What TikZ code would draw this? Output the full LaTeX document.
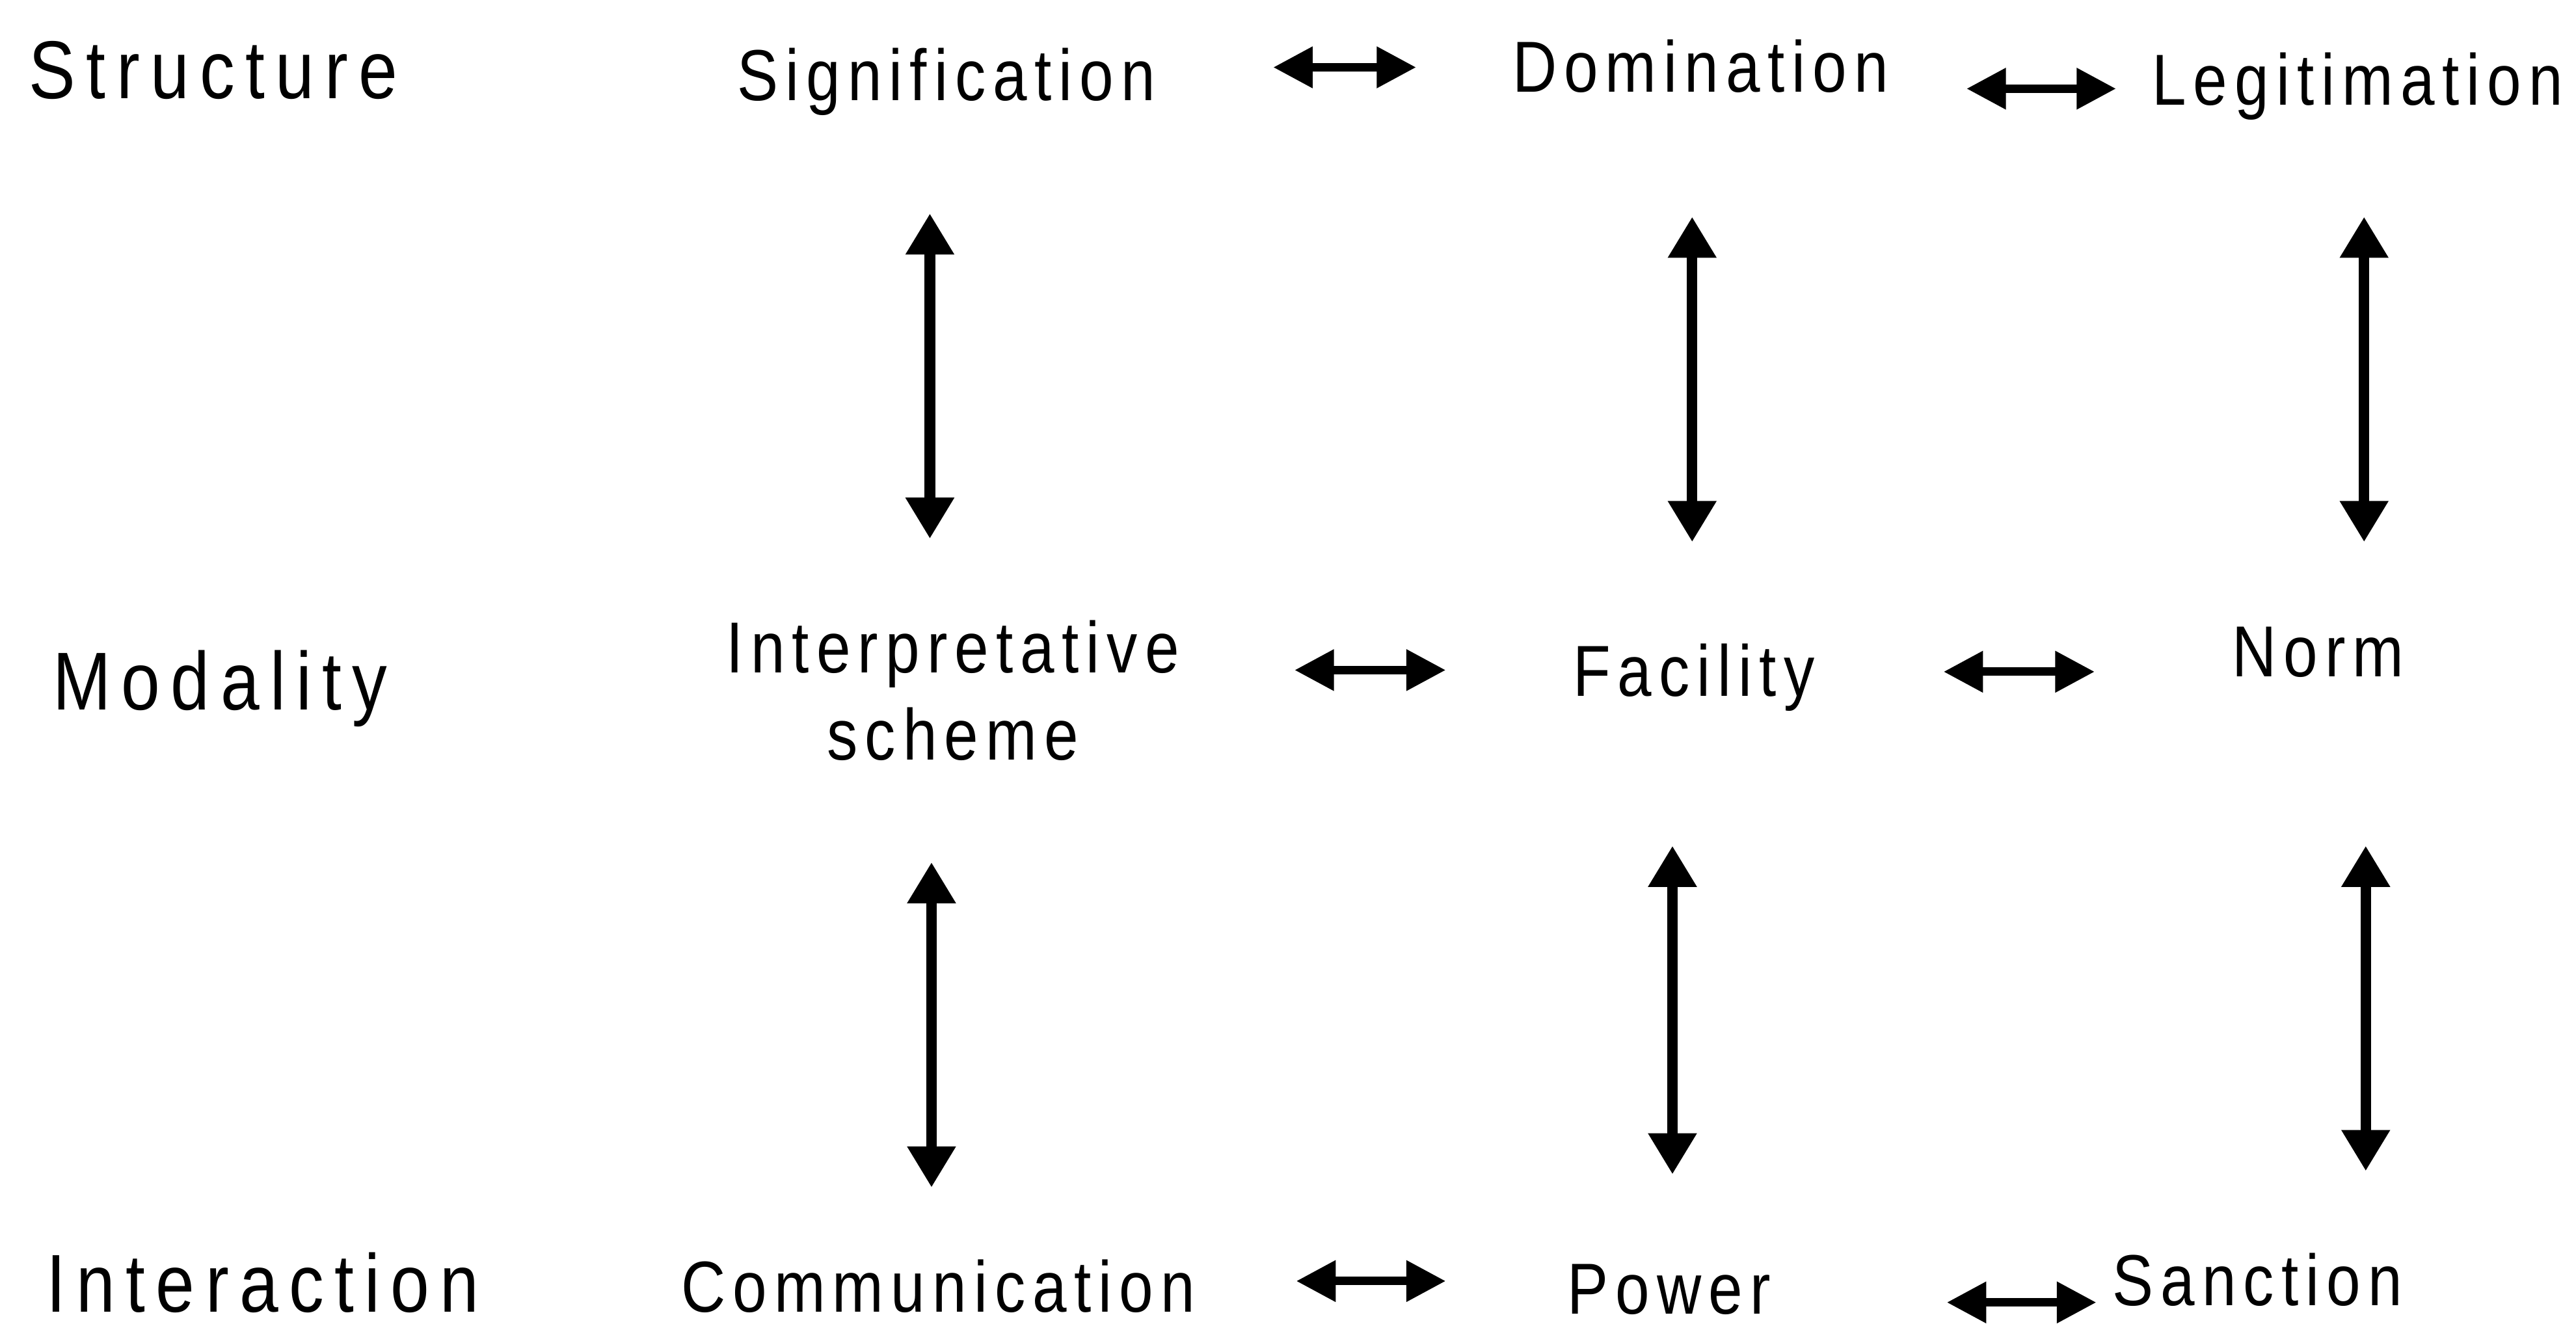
\documentclass[tikz,border=0pt]{standalone}
\usepackage{fontspec}
\setmainfont{Liberation Sans}[FakeStretch=0.85, LetterSpace=10]
\newfontfamily\rowfont{Liberation Sans}[FakeStretch=0.85, LetterSpace=13]
\usetikzlibrary{arrows.meta}

\begin{document}
\begin{tikzpicture}[x=0.5pt, y=-0.5pt,
  cell/.style={inner sep=0pt, anchor=base, font=\fontsize{22}{26.5}\selectfont},
  rowlabel/.style={inner sep=0pt, anchor=base, font=\rowfont\fontsize{25}{30}\selectfont},
  vlink/.style={line width=3.2pt,
    {Triangle[width=14pt,length=12.5pt]}-{Triangle[width=14pt,length=12.5pt]}},
  hlink/.style={line width=2.6pt,
    {Triangle[width=12pt,length=12pt]}-{Triangle[width=12pt,length=12pt]}}]

  % page frame
  \useasboundingbox (0,0) rectangle (1568,807);

  % row labels
  \node[rowlabel] (structure)   at (130,60)  {Structure};
  \node[rowlabel] (modality)    at (134,432) {Modality};
  \node[rowlabel] (interaction) at (160,799) {Interaction};

  % structure row
  \node[cell] (sig) at (576,61)  {Signification};
  \node[cell] (dom) at (1035,56) {Domination};
  \node[cell] (leg) at (1435,64) {Legitimation};

  % modality row
  \node[cell, anchor=center, align=center] (int) at (580,420.5) {Interpretative\\scheme};
  \node[cell] (fac)  at (1031,424) {Facility};
  \node[cell] (norm) at (1411,412) {Norm};

  % interaction row
  \node[cell] (com) at (571,799)  {Communication};
  \node[cell] (pow) at (1016,800) {Power};
  \node[cell] (san) at (1374,795) {Sanction};

  % connector end points
  \coordinate (sigdomA) at (775,41);   \coordinate (sigdomB) at (862,41);
  \coordinate (domlegA) at (1197,54);  \coordinate (domlegB) at (1288,54);
  \coordinate (intfacA) at (788,408);  \coordinate (intfacB) at (880,408);
  \coordinate (facnorA) at (1183,409); \coordinate (facnorB) at (1275,409);
  \coordinate (compowA) at (789,780);  \coordinate (compowB) at (880,780);
  \coordinate (powsanA) at (1185,793); \coordinate (powsanB) at (1276,793);

  \coordinate (sigintA) at (566,130);  \coordinate (sigintB) at (566,328);
  \coordinate (domfacA) at (1030,132); \coordinate (domfacB) at (1030,330);
  \coordinate (legnorA) at (1439,132); \coordinate (legnorB) at (1439,330);
  \coordinate (intcomA) at (567,525);  \coordinate (intcomB) at (567,723);
  \coordinate (facpowA) at (1018,515); \coordinate (facpowB) at (1018,715);
  \coordinate (norsanA) at (1440,515); \coordinate (norsanB) at (1440,713);

  % horizontal links
  \draw[hlink] (sigdomA) -- (sigdomB);
  \draw[hlink] (domlegA) -- (domlegB);
  \draw[hlink] (intfacA) -- (intfacB);
  \draw[hlink] (facnorA) -- (facnorB);
  \draw[hlink] (compowA) -- (compowB);
  \draw[hlink] (powsanA) -- (powsanB);

  % vertical links
  \draw[vlink] (sigintA) -- (sigintB);
  \draw[vlink] (domfacA) -- (domfacB);
  \draw[vlink] (legnorA) -- (legnorB);
  \draw[vlink] (intcomA) -- (intcomB);
  \draw[vlink] (facpowA) -- (facpowB);
  \draw[vlink] (norsanA) -- (norsanB);
\end{tikzpicture}
\end{document}
